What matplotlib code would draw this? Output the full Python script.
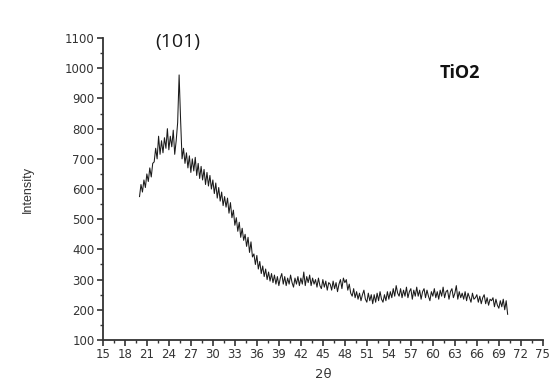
import numpy as np
import matplotlib
matplotlib.use("Agg")
import matplotlib.pyplot as plt
from matplotlib.ticker import MultipleLocator

# XRD scan of TiO2, 2theta from 20 to 70.2 deg in 0.2 deg steps
two_theta = np.round(np.arange(20.0, 70.3, 0.2), 1)
intensity = [
    575, 615, 590, 630, 605, 650, 625, 670, 640, 685,   # 20.0 - 21.8
    690, 735, 700, 775, 715, 760, 720, 770, 735, 800,   # 22.0 - 23.8
    730, 775, 740, 795, 715, 760, 820, 978, 830, 700,   # 24.0 - 25.8
    735, 685, 720, 670, 710, 655, 700, 660, 705, 645,   # 26.0
    685, 635, 675, 630, 665, 615, 655, 610, 645, 600,   # 28.0
    630, 585, 620, 570, 605, 560, 590, 545, 575, 540,   # 30.0
    570, 520, 555, 505, 530, 480, 505, 460, 490, 440,   # 32.0
    470, 430, 450, 410, 440, 390, 425, 375, 385, 350,   # 34.0
    380, 335, 360, 320, 345, 310, 335, 300, 325, 295,   # 36.0
    320, 290, 315, 285, 310, 280, 305, 320, 285, 310,   # 38.0
    280, 305, 285, 315, 290, 275, 305, 285, 310, 280,   # 40.0
    305, 285, 325, 280, 310, 290, 315, 280, 305, 285,   # 42.0
    300, 275, 305, 280, 270, 300, 275, 295, 265, 290,   # 44.0
    285, 265, 295, 270, 290, 260, 285, 300, 270, 305,   # 46.0
    290, 300, 265, 285, 255, 245, 270, 240, 260, 235,   # 48.0
    255, 230, 250, 265, 235, 225, 255, 230, 250, 220,   # 50.0
    250, 225, 255, 230, 260, 235, 225, 250, 230, 260,   # 52.0
    235, 260, 240, 270, 245, 280, 255, 245, 270, 240,   # 54.0
    265, 245, 275, 240, 260, 270, 235, 265, 245, 275,   # 56.0
    245, 265, 235, 260, 270, 240, 265, 245, 230, 260,   # 58.0
    245, 270, 240, 260, 235, 265, 245, 275, 240, 260,   # 60.0
    265, 235, 260, 270, 240, 255, 280, 235, 260, 240,   # 62.0
    255, 235, 260, 230, 255, 240, 225, 255, 235, 240,   # 64.0
    250, 225, 245, 220, 240, 250, 220, 240, 215, 235,   # 66.0
    230, 240, 210, 235, 215, 205, 230, 210, 235, 200,   # 68.0
    230, 185,                                           # 70.0 - 70.2
]

fig = plt.figure(figsize=(5.5, 3.85), dpi=100)
ax = fig.add_axes([0.187, 0.117, 0.80, 0.784])

ax.plot(two_theta, intensity, color="#1a1a1a", linewidth=0.75)

ax.set_xlim(15, 75)
ax.set_ylim(100, 1100)
ax.xaxis.set_major_locator(MultipleLocator(3))
ax.xaxis.set_minor_locator(MultipleLocator(1.5))
ax.yaxis.set_major_locator(MultipleLocator(100))
ax.yaxis.set_minor_locator(MultipleLocator(50))

for side in ("top", "right"):
    ax.spines[side].set_visible(False)
for side in ("left", "bottom"):
    ax.spines[side].set_linewidth(1.3)
    ax.spines[side].set_color("#333333")

ax.tick_params(which="major", length=4, width=1.2, labelsize=8.5, colors="#333333",
               pad=2)
ax.tick_params(which="minor", length=2.5, width=1.0, colors="#333333")
for lbl in ax.get_xticklabels() + ax.get_yticklabels():
    lbl.set_family("DejaVu Sans")

ax.set_ylabel("Intensity", fontsize=9, family=["Liberation Sans Narrow", "Liberation Sans"],
              color="#333333", labelpad=22)
ax.set_xlabel("2\u03b8", fontsize=9.5, family="DejaVu Sans", color="#333333", labelpad=5)

fig.text(178 / 550, 1 - 42 / 385, "(101)", fontsize=14, family="Open Sans",
         color="#1a1a1a", ha="center", va="center")
fig.text(460 / 550, 1 - 73 / 385, "TiO2", fontsize=13, weight="bold",
         family="Open Sans", color="#111111", ha="center", va="center")

fig.savefig("out.png", dpi=100)
